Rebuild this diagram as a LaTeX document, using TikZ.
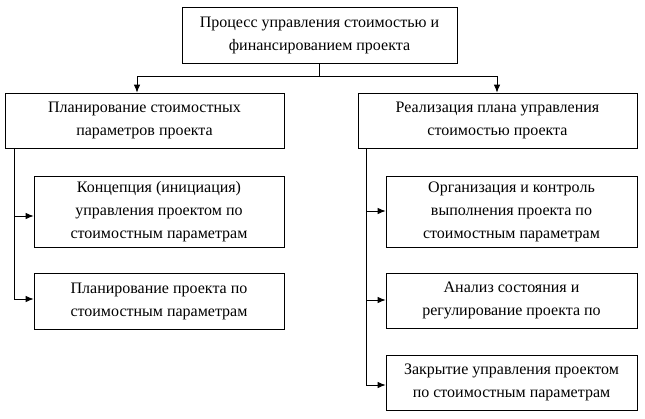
\documentclass[tikz,border=0pt]{standalone}
\usepackage{fontspec}
\setmainfont{Liberation Serif}
\usetikzlibrary{arrows.meta}
\begin{document}
\begin{tikzpicture}[x=1pt,y=-1pt,
  box/.style={draw,line width=0.8pt,rectangle,inner sep=0pt,align=center,
    font=\fontsize{16}{23}\selectfont},
  ln/.style={line width=0.8pt},
  arr/.style={line width=0.8pt,-{Latex[length=8pt,width=6.5pt]}}]
\useasboundingbox (0,0) rectangle (645,418);
\node[box,minimum width=275pt,minimum height=56pt] (top) at (319.5,35) {Процесс управления стоимостью и\\финансированием проекта};
\node[box,minimum width=279pt,minimum height=55pt] (left) at (144.5,120.5) {Планирование стоимостных\\параметров проекта};
\node[box,minimum width=279pt,minimum height=55pt] (right) at (497.5,120.5) {Реализация плана управления\\стоимостью проекта};
\node[box,minimum width=250pt,minimum height=71pt] (l1) at (159,211.5) {Концепция (инициация)\\управления проектом по\\стоимостным параметрам};
\node[box,minimum width=250pt,minimum height=56pt] (l2) at (159,301) {Планирование проекта по\\стоимостным параметрам};
\node[box,minimum width=251pt,minimum height=71pt] (r1) at (511.5,211.5) {Организация и контроль\\выполнения проекта по\\стоимостным параметрам};
\node[box,minimum width=251pt,minimum height=55pt] (r2) at (511.5,300.5) {Анализ состояния и\\регулирование проекта по};
\node[box,minimum width=251pt,minimum height=55pt] (r3) at (511.5,382.5) {Закрытие управления проектом\\по стоимостным параметрам};
% top junction
\coordinate (j) at (top.south |- 0,76);
\coordinate (jl) at (137,76);
\coordinate (jr) at (497,76);
\draw[ln] (top.south) -- (j);
\draw[ln] (jl) -- (jr);
\draw[arr] (jl) -- (jl |- left.north);
\draw[arr] (jr) -- (jr |- right.north);
% left spine
\coordinate (ls) at (14,148);
\coordinate (la1) at (14,216);
\coordinate (la2) at (14,299);
\draw[ln] (ls) -- (la2);
\draw[arr] (la1) -- (la1 -| l1.west);
\draw[arr] (la2) -- (la2 -| l2.west);
% right spine
\coordinate (rs) at (366,148);
\coordinate (ra1) at (366,211);
\coordinate (ra2) at (366,300);
\coordinate (ra3) at (366,385);
\draw[ln] (rs) -- (ra3);
\draw[arr] (ra1) -- (ra1 -| r1.west);
\draw[arr] (ra2) -- (ra2 -| r2.west);
\draw[arr] (ra3) -- (ra3 -| r3.west);
\end{tikzpicture}
\end{document}
